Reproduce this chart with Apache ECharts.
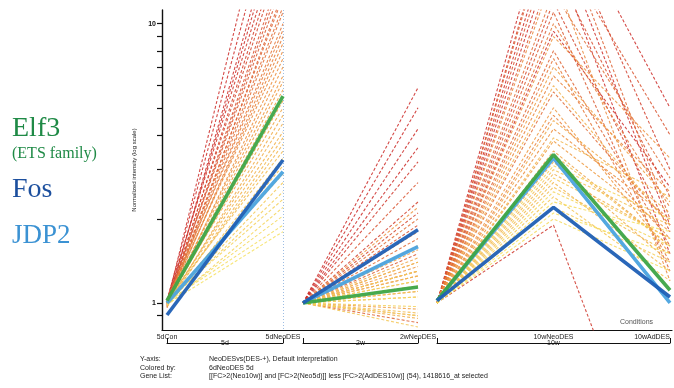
<!DOCTYPE html>
<html><head><meta charset="utf-8">
<script src="https://cdn.jsdelivr.net/npm/echarts@6/dist/echarts.min.js"></script>
<style>html,body{margin:0;padding:0;background:#fff}#c{width:674px;height:388px}</style>
</head><body><div id="c"></div>
<script>
// ---- categories / tick labels ----
const panel1Cats = ['5dCon', '5dNeoDES'];
const panel2Cats = ['2wCon', '2wNeoDES'];
const panel3Cats = ['10wCon', '10wNeoDES', '10wAdDES'];
const panelNames = ['5d', '2w', '10w'];
const yTickValues = [0.9, 1, 2, 3, 4, 5, 6, 7, 8, 9, 10];
const yLabelValues = [1, 10];

// ---- background genes (normalized intensity) ----
const d5Con  = [1.00,1.02,0.98,1.00,1.03,0.97,1.01,0.99,1.00,1.02,0.96,1.00,1.01,0.99,1.00,1.02,0.98,1.00,1.03,0.97,1.00,1.01,0.99,1.00,1.00,1.02,0.98,1.00,1.01,0.99,1.00,1.03,0.97,1.00,1.01,0.99,1.00,1.02,0.98,1.00,1.01,0.99];
const d5Neo  = [48,35,28,25,22,20,18,16,15,14,13,12.5,11.5,11,10,9.5,9,8.5,8,7.5,7,6.5,6.2,5.8,5.3,5.0,4.7,4.4,4.1,3.9,3.7,3.5,3.3,3.1,2.9,2.7,2.5,2.35,2.2,2.05,1.9,1.8];
const w2Con  = [1,1,1,1,1,1,1,1,1,1,1,1,1,1,1,1,1,1,1,1,1,1,1,1,1,1,1,1,1,1,1,1,1,1,1,1,1,1,1,1,1,1];
const w2Neo  = [5.9,5.0,4.2,3.6,3.2,2.3,2.1,1.9,2.7,1.5,0.85,1.3,1.7,2.0,1.25,1.6,0.9,1.4,1.8,1.1,2.2,1.35,0.95,1.55,1.2,1.45,0.88,1.3,1.05,1.6,1.15,0.92,1.25,1.4,0.82,1.1,1.3,0.97,1.2,1.05,0.9,1.15];
const w10Con = [1,1,1,1,1,1,1,1,1,1,1,1,1,1,1,1,1,1,1,1,1,1,1,1,1,1,1,1,1,1,1,1,1,1,1,1,1,1,1,1,1,1];
const w10Neo = [30,22,9.4,18,1.9,26,12,16,20,11,25,8,5.7,13,7.5,10,4.7,6.5,15,4.2,9,5,3.8,7,3.5,4.5,3.2,6,2.9,3.9,2.7,3.4,2.6,3.0,2.4,2.8,2.2,3.1,2.5,2.0,2.3,2.1];
const w10Ad  = [5.0,1.9,2.6,1.5,0.15,3.0,1.8,2.4,4.0,1.3,2.0,1.6,1.9,2.8,1.4,2.2,1.7,2.5,1.2,2.0,3.3,1.5,1.8,2.3,1.6,2.1,1.4,1.9,1.7,2.4,1.3,1.6,1.5,1.9,1.2,1.7,1.4,2.0,1.6,1.3,1.8,1.5];

// ---- highlighted genes ----
const hlNames  = ['Elf3', 'Fos', 'JDP2'];
const hl5dCon  = [1.02, 0.905, 1.0];
const hl5dNeo  = [5.5, 3.25, 2.95];
const hl2wCon  = [1, 1, 1];
const hl2wNeo  = [1.14, 1.83, 1.59];
const hl10wCon = [1.02, 1.02, 1.02];
const hl10wNeo = [3.4, 2.2, 3.3];
const hl10wAd  = [1.11, 1.05, 1.0];
const hlColors = ['#3da547', '#1f5fb5', '#4aa3df'];

const Y_MIN = 0.8, Y_MAX = 11.2;

function mix(a, b, t) { return a.map((v, i) => Math.round(v + (b[i] - v) * t)); }
function geneColor(v) {
  const lo = Math.log10(1.8), hi = Math.log10(25);
  let t = (Math.log10(v) - lo) / (hi - lo);
  t = Math.max(0, Math.min(1, t));
  const Y = [246, 224, 96], O = [238, 150, 62], R = [204, 44, 40];
  const c = t < 0.5 ? mix(Y, O, t / 0.5) : mix(O, R, (t - 0.5) / 0.5);
  return 'rgb(' + c.join(',') + ')';
}

const series = [];
for (let i = 0; i < d5Neo.length; i++) {
  const col = geneColor(d5Neo[i]);
  const ls = { color: col, width: 1.1, type: [3, 2], opacity: 0.85 };
  const common = { type: 'line', symbol: 'none', silent: true, lineStyle: ls, z: 2, animation: false };
  series.push(Object.assign({ xAxisIndex: 0, yAxisIndex: 0, data: [d5Con[i], d5Neo[i]] }, common));
  series.push(Object.assign({ xAxisIndex: 1, yAxisIndex: 1, data: [w2Con[i], w2Neo[i]] }, common));
  series.push(Object.assign({ xAxisIndex: 2, yAxisIndex: 2, data: [w10Con[i], w10Neo[i], w10Ad[i]] }, common));
}
[2, 0, 1].forEach((k, ord) => {
  const ls = { color: hlColors[k], width: 3.6, opacity: 0.95 };
  const common = { type: 'line', name: hlNames[k], symbol: 'none', silent: true, lineStyle: ls, z: 5 + ord, animation: false };
  series.push(Object.assign({ xAxisIndex: 0, yAxisIndex: 0, data: [hl5dCon[k], hl5dNeo[k]] }, common));
  series.push(Object.assign({ xAxisIndex: 1, yAxisIndex: 1, data: [hl2wCon[k], hl2wNeo[k]] }, common));
  series.push(Object.assign({ xAxisIndex: 2, yAxisIndex: 2, data: [hl10wCon[k], hl10wNeo[k], hl10wAd[k]] }, common));
});

const TOP = 10, BOTTOM = 58;
const lblStyle = { fontSize: 7, color: '#222', fontFamily: 'Liberation Sans, Arial, sans-serif', margin: 4 };
function catAxis(grid, cats, opts) {
  return Object.assign({
    type: 'category', gridIndex: grid, data: cats, boundaryGap: false,
    axisLine: { show: false }, axisTick: { show: false },
    axisLabel: Object.assign({}, lblStyle), splitLine: { show: false }
  }, opts || {});
}
function bracketAxis(grid, cats, name, hideMiddle) {
  return {
    type: 'category', gridIndex: grid, data: cats, boundaryGap: false, position: 'bottom', offset: 13,
    axisLine: { show: true, onZero: false, lineStyle: { color: '#111', width: 1 } },
    axisTick: { show: true, inside: true, length: 5, lineStyle: { color: '#111', width: 1 },
      interval: hideMiddle ? function (idx) { return idx !== 1; } : 0 },
    axisLabel: { show: false },
    name: name, nameLocation: 'middle', nameGap: 0,
    nameTextStyle: { fontSize: 7, color: '#222', backgroundColor: '#fff', padding: [0, 2],
      verticalAlign: 'middle',
      fontFamily: 'Liberation Sans, Arial, sans-serif' }
  };
}

const xAxis = [
  catAxis(0, panel1Cats, { splitLine: { show: true, interval: function (i) { return i === 1; },
    lineStyle: { color: '#9dbde3', type: [1, 2], width: 1 } } }),
  catAxis(1, panel2Cats, { axisLabel: Object.assign({}, lblStyle, { interval: function (i) { return i > 0; } }) }),
  catAxis(2, panel3Cats, { axisLabel: Object.assign({}, lblStyle, { interval: function (i) { return i > 0; }, alignMaxLabel: 'right' }) }),
  bracketAxis(0, panel1Cats, panelNames[0], false),
  bracketAxis(1, panel2Cats, panelNames[1], false),
  bracketAxis(2, panel3Cats, panelNames[2], true),
  { type: 'value', gridIndex: 3, min: 0, max: 1, position: 'bottom',
    axisLine: { show: true, onZero: false, lineStyle: { color: '#111', width: 1.2 } },
    axisTick: { show: false }, axisLabel: { show: false }, splitLine: { show: false } }
];
function hiddenLog(grid) {
  return { type: 'log', logBase: 10, gridIndex: grid, min: Y_MIN, max: Y_MAX, show: false, splitLine: { show: false } };
}
const yAxis = [
  hiddenLog(0), hiddenLog(1), hiddenLog(2),
  { type: 'value', gridIndex: 3, min: Math.log10(Y_MIN), max: Math.log10(Y_MAX),
    axisLine: { show: true, onZero: false, lineStyle: { color: '#111', width: 1.4 } },
    axisTick: { show: true, length: 5, lineStyle: { color: '#111', width: 1.2 }, customValues: yTickValues.map(Math.log10) },
    axisLabel: { show: true, fontSize: 7, color: '#111', fontWeight: 'bold', margin: 6,
      fontFamily: 'Liberation Sans, Arial, sans-serif',
      customValues: yLabelValues.map(Math.log10),
      formatter: function (v) { return String(Math.round(Math.pow(10, v))); } },
    splitLine: { show: false },
    name: 'Normalized intensity (log scale)', nameLocation: 'middle', nameGap: 20, nameRotate: 90,
    nameTextStyle: { fontSize: 6, color: '#222', fontFamily: 'Liberation Sans, Arial, sans-serif' } }
];

const serif = 'Liberation Serif, Times New Roman, serif';
const sans = 'Liberation Sans, Arial, sans-serif';
const infoLabels = ['Y-axis:', 'Colored by:', 'Gene List:'];
const infoValues = ['NeoDESvs(DES-+), Default interpretation', '6dNeoDES 5d',
  '[[FC>2(Neo10w)] and [FC>2(Neo5d)]] less [FC>2(AdDES10w)] (54), 1418616_at selected'];
const graphic = [
  { type: 'text', left: 12, top: 115, style: { text: 'Elf3', font: '28px ' + serif, fill: '#1f8a46' } },
  { type: 'text', left: 12, top: 146, style: { text: '(ETS family)', font: '16px ' + serif, fill: '#1f8a46' } },
  { type: 'text', left: 12, top: 176, style: { text: 'Fos', font: '28px ' + serif, fill: '#1c4f9e' } },
  { type: 'text', left: 12, top: 222, style: { text: 'JDP2', font: '27px ' + serif, fill: '#3b92d3' } },
  { type: 'text', left: 620, top: 319, style: { text: 'Conditions', font: '7px ' + sans, fill: '#555' } }
];
infoLabels.forEach((t, i) => {
  graphic.push({ type: 'text', left: 140, top: 356 + i * 8.5, style: { text: t, font: '7px ' + sans, fill: '#222' } });
  graphic.push({ type: 'text', left: 209, top: 356 + i * 8.5, style: { text: infoValues[i], font: '7px ' + sans, fill: '#222' } });
});

const chart = echarts.init(document.getElementById('c'), null, { renderer: 'canvas' });
chart.setOption({
  animation: false,
  backgroundColor: '#fff',
  grid: [
    { left: 167, width: 116, top: TOP, bottom: BOTTOM },
    { left: 303, width: 115, top: TOP, bottom: BOTTOM },
    { left: 437, width: 233, top: TOP, bottom: BOTTOM },
    { left: 162, right: 2, top: TOP, bottom: BOTTOM }
  ],
  xAxis: xAxis,
  yAxis: yAxis,
  series: series,
  graphic: graphic
});
</script></body></html>
